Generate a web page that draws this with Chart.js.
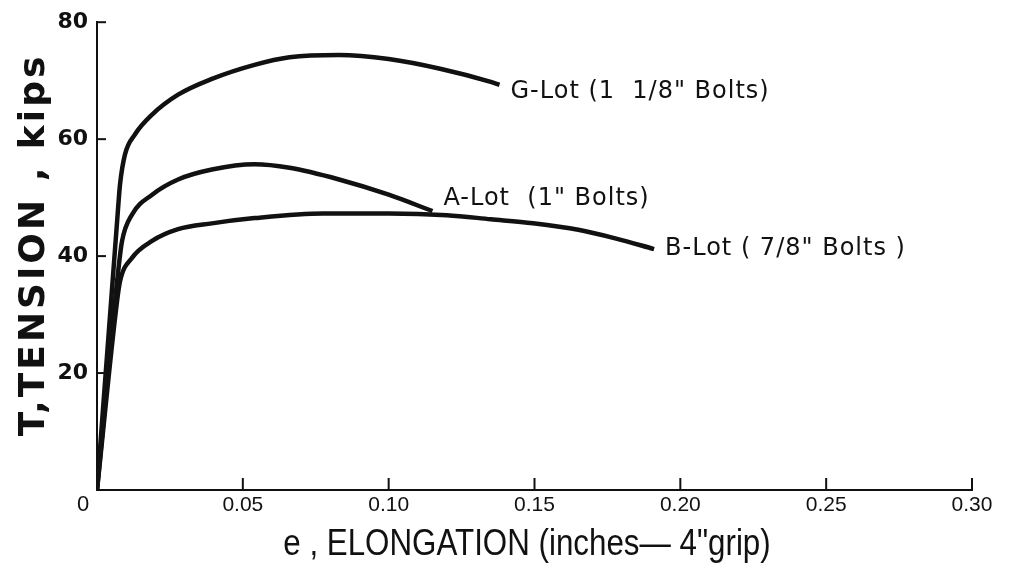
<!DOCTYPE html>
<html>
<head>
<meta charset="utf-8">
<script src="https://cdn.jsdelivr.net/npm/chart.js@4/dist/chart.umd.min.js"></script>
<style>
  html, body { margin: 0; padding: 0; background: #fff; }
  #wrap { width: 1015px; height: 573px; }
</style>
</head>
<body>
<div id="wrap"><canvas id="c" width="1015" height="573"></canvas></div>
<script>
// series names (drawn at the end of each curve)
const seriesNames = ['G-Lot (1  1/8" Bolts)', 'A-Lot  (1" Bolts)', 'B-Lot ( 7/8" Bolts )'];

// elongation e (in) and tension T (kips)
const gLotE = [0, 0.0072, 0.0079, 0.0096, 0.013, 0.0189, 0.0278, 0.0394, 0.054, 0.066, 0.083, 0.100, 0.118, 0.135, 0.138];
const gLotT = [0, 48, 52.3, 57.4, 60.8, 64.2, 67.6, 70.3, 72.7, 74.0, 74.4, 73.7, 72.0, 69.8, 69.3];

const aLotE = [0, 0.0074, 0.0086, 0.012, 0.0189, 0.0278, 0.0394, 0.054, 0.066, 0.083, 0.100, 0.115];
const aLotT = [0, 38, 42.6, 47.1, 50.5, 53.1, 54.8, 55.7, 55.1, 53.1, 50.5, 47.7];

const bLotE = [0, 0.0068, 0.0079, 0.012, 0.0189, 0.0278, 0.0394, 0.054, 0.0775, 0.100, 0.120, 0.135, 0.1495, 0.165, 0.178, 0.191];
const bLotT = [0, 32, 35.7, 39.7, 42.6, 44.6, 45.6, 46.5, 47.3, 47.3, 47.0, 46.3, 45.6, 44.5, 43.0, 41.2];

// tick values
const xTicks = [0, 0.05, 0.10, 0.15, 0.20, 0.25, 0.30];
const yTicks = [0, 20, 40, 60, 80];

function pts(xs, ys) {
  return xs.map((x, i) => ({ x: x, y: ys[i] }));
}

const ink = '#111';

// inward tick marks, series labels, axis titles
const annotate = {
  id: 'annotate',
  afterDraw(chart) {
    const ctx = chart.ctx;
    const xs = chart.scales.x, ys = chart.scales.y;
    ctx.save();
    ctx.strokeStyle = ink;
    ctx.fillStyle = ink;
    ctx.lineWidth = 2;

    xTicks.forEach(v => {
      if (v === 0) return;
      const px = xs.getPixelForValue(v);
      ctx.beginPath();
      ctx.moveTo(px, ys.bottom);
      ctx.lineTo(px, ys.bottom - 12);
      ctx.stroke();
    });
    yTicks.forEach(v => {
      if (v === 0) return;
      const py = ys.getPixelForValue(v);
      ctx.beginPath();
      ctx.moveTo(xs.left, py);
      ctx.lineTo(xs.left + 9, py);
      ctx.stroke();
    });

    // shared origin label
    ctx.font = '22px "Liberation Sans"';
    ctx.textAlign = 'center';
    ctx.textBaseline = 'middle';
    ctx.fillText('0', xs.left - 14, ys.bottom + 15);

    // curve labels
    const labelDy = [7, -12, 0];
    ctx.save();
    ctx.font = '24px "DejaVu Sans"';
    ctx.letterSpacing = '1px';
    ctx.textAlign = 'left';
    chart.data.datasets.forEach((ds, i) => {
      const last = ds.data[ds.data.length - 1];
      const px = xs.getPixelForValue(last.x) + 11;
      const py = ys.getPixelForValue(last.y) + labelDy[i];
      ctx.fillText(ds.label, px, py);
    });
    ctx.restore();

    // x title (narrow lettering)
    ctx.save();
    ctx.translate(527, ys.bottom + 55);
    ctx.scale(0.87, 1);
    ctx.font = '36px "Liberation Sans"';
    ctx.textAlign = 'center';
    ctx.fillText('e , ELONGATION (inches\u2014 4"grip)', 0, 0);
    ctx.restore();

    // y title
    ctx.translate(35, 245);
    ctx.rotate(-Math.PI / 2);
    ctx.font = 'bold 36px "DejaVu Sans"';
    ctx.letterSpacing = '3px';
    ctx.textAlign = 'center';
    ctx.fillText('T,TENSION , kips', 0, 0);
    ctx.restore();
  }
};

new Chart(document.getElementById('c'), {
  type: 'line',
  data: {
    datasets: [
      { label: seriesNames[0], data: pts(gLotE, gLotT) },
      { label: seriesNames[1], data: pts(aLotE, aLotT) },
      { label: seriesNames[2], data: pts(bLotE, bLotT) }
    ].map(d => Object.assign(d, {
      borderColor: ink,
      borderWidth: 4.5,
      pointRadius: 0,
      fill: false,
      cubicInterpolationMode: 'monotone'
    }))
  },
  options: {
    responsive: false,
    animation: false,
    devicePixelRatio: 1,
    layout: { padding: { top: 20, right: 43, left: 0, bottom: 0 } },
    plugins: { legend: { display: false }, tooltip: { enabled: false } },
    scales: {
      x: {
        type: 'linear',
        min: 0, max: 0.30,
        afterFit: s => { s.height = 83; },
        afterBuildTicks: s => { s.ticks = xTicks.map(v => ({ value: v })); },
        grid: { display: false, drawTicks: false },
        border: { color: ink, width: 2 },
        ticks: {
          color: ink,
          padding: 3,
          maxRotation: 0,
          font: { family: '"Liberation Sans"', size: 21 },
          callback: v => v === 0 ? '' : v.toFixed(2)
        }
      },
      y: {
        min: 0, max: 80,
        afterFit: s => { s.width = 97; },
        afterBuildTicks: s => { s.ticks = yTicks.map(v => ({ value: v })); },
        grid: { display: false, drawTicks: false },
        border: { color: ink, width: 2 },
        ticks: {
          color: ink,
          padding: 9,
          font: { family: '"DejaVu Sans"', size: 22, weight: 'bold' },
          callback: v => v === 0 ? '' : String(v)
        }
      }
    }
  },
  plugins: [annotate]
});
</script>
</body>
</html>
